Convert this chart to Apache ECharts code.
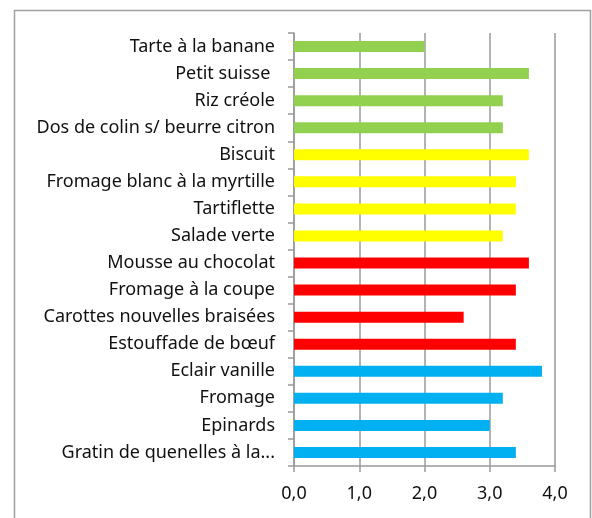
<!DOCTYPE html>
<html><head><meta charset="utf-8">
<script src="https://cdn.jsdelivr.net/npm/echarts@6/dist/echarts.min.js"></script>
<style>html,body{margin:0;padding:0;background:#fff}#c{width:592px;height:518px}</style>
</head><body><div id="c"></div>
<script>
const categories = ["Tarte à la banane","Petit suisse ","Riz créole","Dos de colin s/ beurre citron","Biscuit","Fromage blanc à la myrtille","Tartiflette","Salade verte","Mousse au chocolat","Fromage à la coupe","Carottes nouvelles braisées","Estouffade de bœuf","Eclair vanille","Fromage","Epinards","Gratin de quenelles à la..."];
const values = [2.0,3.6,3.2,3.2,3.6,3.4,3.4,3.2,3.6,3.4,2.6,3.4,3.8,3.2,3.0,3.4];
const groups = [0,0,0,0,1,1,1,1,2,2,2,2,3,3,3,3];
const groupColors = ["#92D050","#FFFF00","#FF0000","#00B0F0"];
const xTicks = [0,1,2,3,4];

const chart = echarts.init(document.getElementById('c'));
const lineC = '#9a9a9a';
chart.setOption({
  animation:false,
  textStyle:{fontFamily:'Noto Sans'},
  graphic:[{type:'rect',shape:{x:14.5,y:10.5,width:576,height:520},style:{fill:'none',stroke:'#a0a0a0',lineWidth:1.5},silent:true}],
  grid:{left:294,right:37,top:33,bottom:52,containLabel:false},
  xAxis:{type:'value',min:0,max:4,interval:1,
    axisLine:{show:true,lineStyle:{color:lineC,width:1.5}},
    axisTick:{show:true,length:6,lineStyle:{color:lineC,width:1.5}},
    splitLine:{show:true,lineStyle:{color:lineC,width:1.5}},
    axisLabel:{color:'#111',fontSize:18,margin:19,formatter:v=>v.toFixed(1).replace('.',',')}
  },
  yAxis:{type:'category',data:categories,inverse:true,
    axisLine:{show:true,lineStyle:{color:lineC,width:1.5}},
    axisTick:{show:true,length:6,lineStyle:{color:lineC,width:1.5}},
    axisLabel:{color:'#111',fontSize:18,margin:19}
  },
  series:[{type:'bar',barWidth:11,
    data:values.map((v,i)=>({value:v,itemStyle:{color:groupColors[groups[i]]}}))
  }]
});
</script></body></html>
